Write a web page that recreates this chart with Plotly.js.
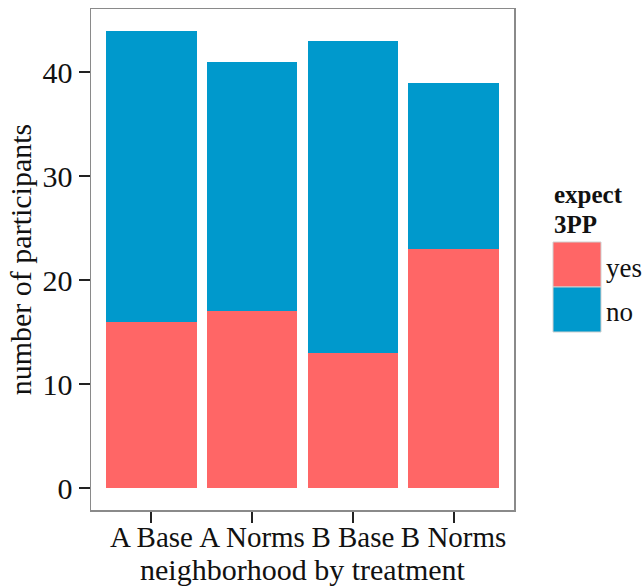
<!DOCTYPE html>
<html>
<head>
<meta charset="utf-8">
<script src="https://cdn.plot.ly/plotly-3.0.1.min.js"></script>
<style>html,body{margin:0;padding:0;background:#fff;}#chart{width:643px;height:587px;}</style>
</head>
<body>
<div id="chart"></div>
<script>
const categories = ["A Base", "A Norms", "B Base", "B Norms"];
const yesValues = [16, 17, 13, 23];
const noValues = [28, 24, 30, 16];
const legendTitle = ["expect", "3PP"];
const seriesNames = ["yes", "no"];

const W = 643, H = 587;
const L = 91, R = 514, T = 9, B = 510;
const px = x => (x - L) / (R - L);
const py = y => (B - y) / (B - T);
const FONT = "'Liberation Serif', 'Times New Roman', serif";
const RED = "#FF6666", BLUE = "#0099CC";

const traces = [
  {type: "bar", name: seriesNames[0], x: categories, y: yesValues, marker: {color: RED}, width: 0.9, hoverinfo: "x+y+name"},
  {type: "bar", name: seriesNames[1], x: categories, y: noValues, marker: {color: BLUE}, width: 0.9, hoverinfo: "x+y+name"}
];

const layout = {
  width: W, height: H,
  margin: {l: L, r: W - R, t: T, b: H - B, pad: 0},
  barmode: "stack",
  showlegend: false,
  paper_bgcolor: "#fff", plot_bgcolor: "#fff",
  font: {family: FONT, color: "#111", size: 30},
  xaxis: {
    range: [-0.6, 3.6], showgrid: false, zeroline: false,
    showline: true, mirror: true, linecolor: "#8a8a8a", linewidth: 1.5,
    ticks: "outside", ticklen: 11, tickwidth: 2, tickcolor: "#222",
    ticklabelstandoff: -10,
    tickfont: {family: FONT, size: 29, color: "#111"},
    title: {text: "neighborhood by treatment", font: {family: FONT, size: 30, color: "#111"}, standoff: 0}
  },
  yaxis: {
    range: [-2.1, 46.1], showgrid: false, zeroline: false,
    showline: true, mirror: true, linecolor: "#8a8a8a", linewidth: 1.5,
    ticks: "outside", ticklen: 11, tickwidth: 2, tickcolor: "#222",
    tickvals: [0, 10, 20, 30, 40],
    tickfont: {family: FONT, size: 30, color: "#111"},
    title: {text: "number of participants", font: {family: FONT, size: 30, color: "#111"}, standoff: 2}
  },
  shapes: [
    {type: "rect", xref: "paper", yref: "paper", x0: px(553), x1: px(601), y0: py(287), y1: py(242), fillcolor: RED, line: {color: "#d0d0d0", width: 1}},
    {type: "rect", xref: "paper", yref: "paper", x0: px(553), x1: px(601), y0: py(332), y1: py(287), fillcolor: BLUE, line: {color: "#d0d0d0", width: 1}}
  ],
  annotations: [
    {xref: "paper", yref: "paper", x: px(552), y: py(194), xanchor: "left", yanchor: "middle", showarrow: false, text: "<b>" + legendTitle[0] + "</b>", font: {family: FONT, size: 25, color: "#111"}},
    {xref: "paper", yref: "paper", x: px(552), y: py(224), xanchor: "left", yanchor: "middle", showarrow: false, text: "<b>" + legendTitle[1] + "</b>", font: {family: FONT, size: 25, color: "#111"}},
    {xref: "paper", yref: "paper", x: px(604), y: py(268), xanchor: "left", yanchor: "middle", showarrow: false, text: seriesNames[0], font: {family: FONT, size: 27, color: "#111"}},
    {xref: "paper", yref: "paper", x: px(604), y: py(312), xanchor: "left", yanchor: "middle", showarrow: false, text: seriesNames[1], font: {family: FONT, size: 27, color: "#111"}}
  ]
};

Plotly.newPlot("chart", traces, layout, {displayModeBar: false, staticPlot: true});
</script>
</body>
</html>
